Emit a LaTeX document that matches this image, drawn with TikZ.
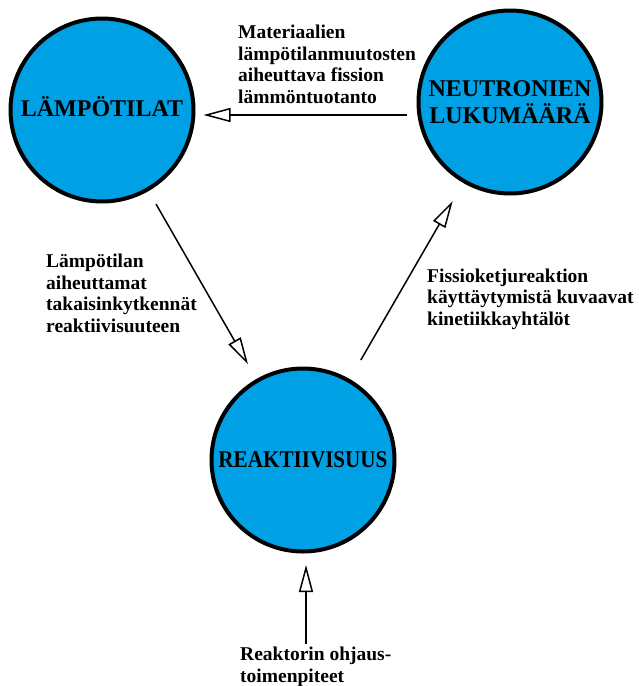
\documentclass[tikz,border=0pt]{standalone}
\usepackage{fontspec}
\setmainfont{Liberation Serif}
\usetikzlibrary{arrows.meta}
\definecolor{cfill}{RGB}{0,160,228}
\begin{document}
\begin{tikzpicture}[x=1pt,y=-1pt,
  circ/.style={circle,draw=black,line width=4pt,fill=cfill,minimum size=183pt,inner sep=0pt,
    font=\fontsize{24}{27}\selectfont\bfseries,align=center},
  lbl/.style={font=\fontsize{19.5}{21.5}\selectfont\bfseries,align=left,inner sep=0pt,anchor=base west},
  arr/.style={line width=1.5pt,-{Triangle[open,length=27pt,width=14pt,line width=1.5pt]}}]
\useasboundingbox (0,0) rectangle (638,686);
\node[circ] (L) at (102,110) {\raisebox{6pt}{LÄMPÖTILAT}};
\node[circ] (N) at (510,102) {NEUTRONIEN\\LUKUMÄÄRÄ};
\node[circ] (R) at (303,460) {\scalebox{0.88}[1]{REAKTIIVISUUS}};
\node[lbl] (t1) at (238,103) {Materiaalien\\lämpötilanmuutosten\\aiheuttava fission\\lämmöntuotanto};
\node[lbl] (t2) at (46,332) {Lämpötilan\\aiheuttamat\\takaisinkytkennät\\reaktiivisuuteen};
\node[lbl] (t3) at (427,325) {Fissioketjureaktion\\käyttäytymistä kuvaavat\\kinetiikkayhtälöt};
\node[lbl] (ctl) at (240,682) {Reaktorin ohjaus-\\toimenpiteet};
\draw[arr] ([xshift=-10pt,yshift=-13pt]N.west) -- ([xshift=8pt,yshift=-5pt]L.east);
\draw[arr,shorten <=15pt,shorten >=17pt] (L) -- (R);
\draw[arr,shorten <=22pt,shorten >=21pt] (R) -- (N);
\draw[arr,shorten <=3pt] ([xshift=3pt]R.south |- ctl.north) -- ([xshift=3pt,yshift=-11.5pt]R.south);
\end{tikzpicture}
\end{document}
